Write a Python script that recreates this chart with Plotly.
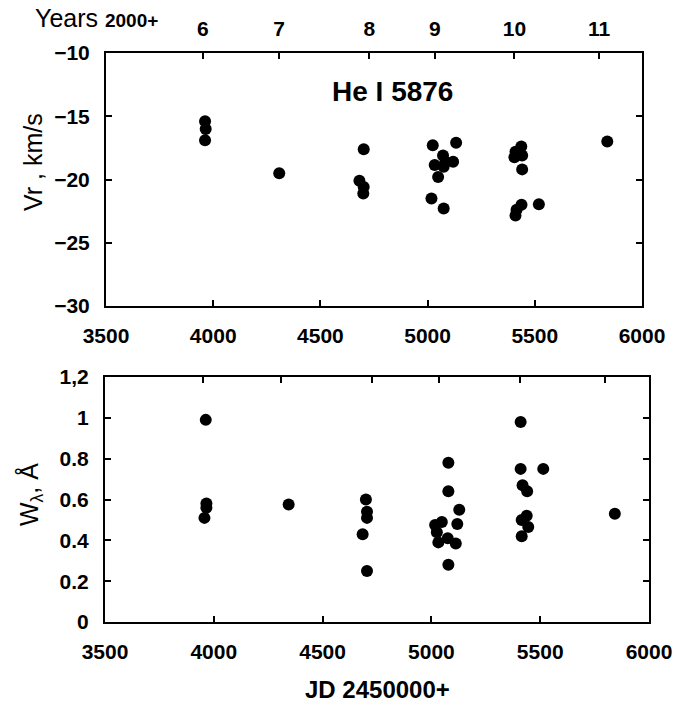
import plotly.graph_objects as go

# ---- data ----
jd_vr = [3962, 3965, 3962, 4308,
         4702, 4682, 4702, 4700,
         5024, 5133, 5072, 5033, 5083, 5119, 5075, 5049, 5018, 5075,
         5437, 5410, 5441, 5405, 5441, 5438, 5415, 5410, 5519,
         5838]
vr = [-15.4, -16.0, -16.9, -19.5,
      -17.6, -20.1, -20.6, -21.1,
      -17.3, -17.1, -18.1, -18.85, -18.6, -18.6, -19.0, -19.8, -21.5, -22.3,
      -17.4, -17.8, -18.1, -18.25, -19.2, -22.0, -22.4, -22.85, -21.95,
      -17.0]

jd_w = [3963, 3966, 3966, 3957, 4344,
        4699, 4704, 4704, 4684, 4704,
        5078, 5078, 5128, 5048, 5017, 5025, 5119, 5032, 5075, 5112, 5078,
        5410, 5410, 5514, 5419, 5440, 5438, 5415, 5445, 5415,
        5843]
w = [0.99, 0.58, 0.56, 0.51, 0.575,
     0.60, 0.54, 0.51, 0.43, 0.25,
     0.78, 0.64, 0.55, 0.49, 0.475, 0.44, 0.48, 0.39, 0.41, 0.385, 0.28,
     0.98, 0.75, 0.75, 0.67, 0.64, 0.52, 0.50, 0.465, 0.42,
     0.53]

x_ticks = [3500, 4000, 4500, 5000, 5500, 6000]
vr_ticks = [-10, -15, -20, -25, -30]
w_ticks = [0, 0.2, 0.4, 0.6, 0.8, 1.0, 1.2]
w_ticktext = ["0", "0.2", "0.4", "0.6", "0.8", "1", "1,2"]
year_jd = [3952, 4307, 4728, 5034, 5405, 5800]
year_labels = ["6", "7", "8", "9", "10", "11"]

FONT = "Liberation Sans, Arial, sans-serif"
W_PX, H_PX = 677, 704


def px_x(p):
    return p / W_PX


def px_y(p):
    return 1 - p / H_PX


tickfont = dict(family=FONT, size=21, color="black", weight="bold")
marker = dict(color="black", size=12, line=dict(width=0))

fig = go.Figure()
fig.add_trace(go.Scatter(x=jd_vr, y=vr, mode="markers", marker=marker,
                         xaxis="x", yaxis="y", showlegend=False))
fig.add_trace(go.Scatter(x=jd_w, y=w, mode="markers", marker=marker,
                         xaxis="x2", yaxis="y2", showlegend=False))

common_x = dict(range=[3500, 6000], tickvals=x_ticks, ticks="inside",
                ticklen=6, tickwidth=2, tickcolor="black", showline=True,
                linecolor="black", linewidth=2, mirror=True, showgrid=False,
                zeroline=False, tickfont=tickfont, ticklabelstandoff=10,
                automargin=False)
common_y = dict(ticks="inside", ticklen=6, tickwidth=2, tickcolor="black",
                showline=True, linecolor="black", linewidth=2, mirror="ticks",
                showgrid=False, zeroline=False, tickfont=tickfont,
                ticklabelstandoff=10, automargin=False)
year_axis = dict(range=[3500, 6000], side="top", tickvals=year_jd,
                 ticks="inside", ticklen=6, tickwidth=2,
                 tickcolor="black", showline=False, showgrid=False,
                 zeroline=False, tickfont=dict(family=FONT, size=21,
                                               color="black", weight="bold"),
                 ticklabelstandoff=12, automargin=False)

top_dom_x = [px_x(106), px_x(642)]
bot_dom_x = [px_x(105), px_x(649)]
top_dom_y = [px_y(306), px_y(53)]
bot_dom_y = [px_y(622), px_y(377)]

fig.update_layout(
    width=W_PX, height=H_PX, autosize=False,
    margin=dict(l=0, r=0, t=0, b=0, pad=0, autoexpand=False),
    paper_bgcolor="white", plot_bgcolor="white",
    xaxis=dict(domain=top_dom_x, anchor="y", **common_x),
    yaxis=dict(domain=top_dom_y, anchor="x", range=[-30, -10],
               tickvals=vr_ticks, **common_y),
    xaxis2=dict(domain=bot_dom_x, anchor="y2", **common_x),
    yaxis2=dict(domain=bot_dom_y, anchor="x2", range=[0, 1.2],
                tickvals=w_ticks, ticktext=w_ticktext, **common_y),
    xaxis3=dict(overlaying="x", anchor="y", domain=top_dom_x,
                ticktext=year_labels, **year_axis),
    xaxis4=dict(overlaying="x2", anchor="y2", domain=bot_dom_x,
                showticklabels=False, **year_axis),
)

# invisible traces to activate the year axes
fig.add_trace(go.Scatter(x=[None], y=[None], xaxis="x3", yaxis="y",
                         showlegend=False, hoverinfo="skip"))
fig.add_trace(go.Scatter(x=[None], y=[None], xaxis="x4", yaxis="y2",
                         showlegend=False, hoverinfo="skip"))

annotations = [
    dict(text="He I 5876", x=px_x(392), y=px_y(91),
         font=dict(family=FONT, size=28, color="black", weight="bold")),
    dict(text="Vr , km/s", x=px_x(33), y=px_y(162), textangle=-90,
         font=dict(family=FONT, size=25, color="black")),
    dict(text="W<sub>λ</sub>, Å", x=px_x(30), y=px_y(495), textangle=-90,
         font=dict(family=FONT, size=25, color="black")),
    dict(text="JD 2450000+", x=px_x(377), y=px_y(689),
         font=dict(family=FONT, size=24, color="black", weight="bold")),
    dict(text="Years <span style='font-size:19px;font-weight:bold'>2000+</span>",
         x=px_x(96), y=px_y(18),
         font=dict(family=FONT, size=25, color="black")),
]
for a in annotations:
    a.update(xref="paper", yref="paper", showarrow=False,
             xanchor="center", yanchor="middle")
fig.update_layout(annotations=annotations)

fig.write_html("out.html")
